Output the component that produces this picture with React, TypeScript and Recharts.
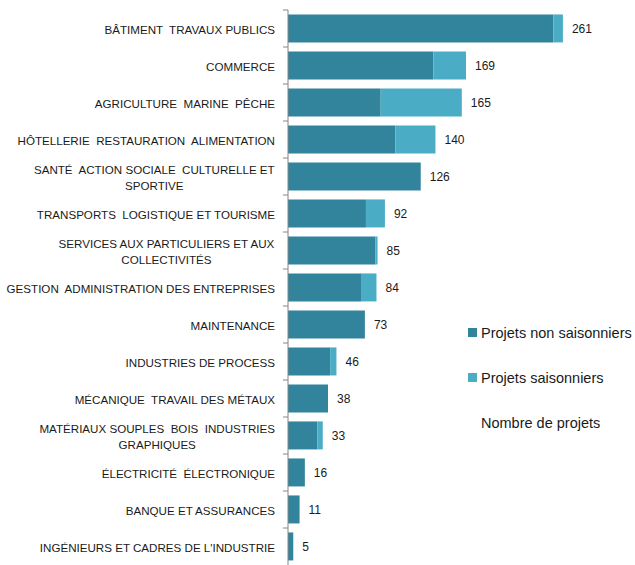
import { BarChart, Bar, XAxis, YAxis, LabelList } from "recharts"

const categories = [
  "BÂTIMENT  TRAVAUX PUBLICS",
  "COMMERCE",
  "AGRICULTURE  MARINE  PÊCHE",
  "HÔTELLERIE  RESTAURATION  ALIMENTATION",
  "SANTÉ  ACTION SOCIALE  CULTURELLE ET\nSPORTIVE",
  "TRANSPORTS  LOGISTIQUE ET TOURISME",
  "SERVICES AUX PARTICULIERS ET AUX\nCOLLECTIVITÉS",
  "GESTION  ADMINISTRATION DES ENTREPRISES",
  "MAINTENANCE",
  "INDUSTRIES DE PROCESS",
  "MÉCANIQUE  TRAVAIL DES MÉTAUX",
  "MATÉRIAUX SOUPLES  BOIS  INDUSTRIES\nGRAPHIQUES",
  "ÉLECTRICITÉ  ÉLECTRONIQUE",
  "BANQUE ET ASSURANCES",
  "INGÉNIEURS ET CADRES DE L'INDUSTRIE",
]
const nonSaisonniers = [252, 138, 88, 102, 126, 74, 83, 70, 73, 40, 38, 28, 16, 11, 5]
const saisonniers = [9, 31, 77, 38, 0, 18, 2, 14, 0, 6, 0, 5, 0, 0, 0]
const legendLabels = ["Projets non saisonniers", "Projets saisonniers", "Nombre de projets"]

const data = categories.map((name, i) => ({
  name,
  non: nonSaisonniers[i],
  sais: saisonniers[i],
  total: nonSaisonniers[i] + saisonniers[i],
}))

const FONT = "'Liberation Sans', Arial, sans-serif"
const DARK = "#31849b"
const LIGHT = "#4bacc6"
const TOP = 10
const HEIGHT = 565
const BAND = (HEIGHT - TOP) / categories.length

let ctx: CanvasRenderingContext2D | null = null
function textWidth(s: string, size: number) {
  if (!ctx) ctx = document.createElement("canvas").getContext("2d")
  if (!ctx) return s.length * size * 0.6
  ctx.font = `${size}px ${FONT}`
  return ctx.measureText(s).width
}

function CategoryTick(props: any) {
  const { x, y, payload } = props
  const lines = String(payload.value).split("\n")
  const size = 11.6
  const lineH = 16
  const axisX = x + 8
  const right = axisX - 13
  const maxW = Math.max(...lines.map((l) => textWidth(l, size)))
  const cx = right - maxW / 2
  const startY = y - ((lines.length - 1) * lineH) / 2 + 1
  return (
    <g>
      <line x1={axisX - 5} x2={axisX} y1={y - BAND / 2} y2={y - BAND / 2} stroke="#868686" />
      {lines.map((l, i) => (
        <text
          key={i}
          x={lines.length > 1 ? cx : right}
          y={startY + i * lineH}
          dy="0.35em"
          textAnchor={lines.length > 1 ? "middle" : "end"}
          fontSize={size}
          fontFamily={FONT}
          fill="#1a1a1a"
          style={{ whiteSpace: "pre" }}
        >
          {l}
        </text>
      ))}
    </g>
  )
}

// total label placed after the whole stack: the dark bar width scaled by total/non
function TotalLabel(props: any) {
  const { x, y, width, height, index } = props
  const d = data[index]
  if (!d) return null
  const end = x + (width * d.total) / d.non
  return (
    <text
      x={end + 9}
      y={y + height / 2}
      dy="0.35em"
      fontSize={12}
      fontFamily={FONT}
      fill="#1a1a1a"
    >
      {d.total}
    </text>
  )
}

function LegendBox() {
  const colors = [DARK, LIGHT, null]
  return (
    <div
      style={{
        position: "absolute",
        left: 468,
        top: 310,
        fontFamily: FONT,
        fontSize: 14.5,
        color: "#1a1a1a",
      }}
    >
      {legendLabels.map((label, i) => (
        <div key={label} style={{ display: "flex", alignItems: "center", height: 45 }}>
          <span
            style={{
              display: "inline-block",
              width: 9,
              height: 9,
              marginRight: 4,
              background: colors[i] ?? "transparent",
            }}
          />
          <span style={{ whiteSpace: "nowrap" }}>{label}</span>
        </div>
      ))}
    </div>
  )
}

export default function App() {
  return (
    <div style={{ position: "absolute", left: 0, top: 0, width: 635, height: 565, background: "#fff", overflow: "hidden" }}>
      <BarChart
        width={635}
        height={HEIGHT}
        data={data}
        layout="vertical"
        margin={{ top: TOP, right: 31, bottom: 0, left: 0 }}
        barCategoryGap="12%"
      >
        <XAxis type="number" domain={[0, 300]} hide />
        <YAxis
          type="category"
          dataKey="name"
          width={288}
          interval={0}
          tickLine={false}
          axisLine={{ stroke: "#868686" }}
          tick={<CategoryTick />}
        />
        <Bar dataKey="non" stackId="a" fill={DARK} isAnimationActive={false}>
          <LabelList dataKey="total" content={<TotalLabel />} />
        </Bar>
        <Bar dataKey="sais" stackId="a" fill={LIGHT} isAnimationActive={false} />
      </BarChart>
      <LegendBox />
    </div>
  )
}
